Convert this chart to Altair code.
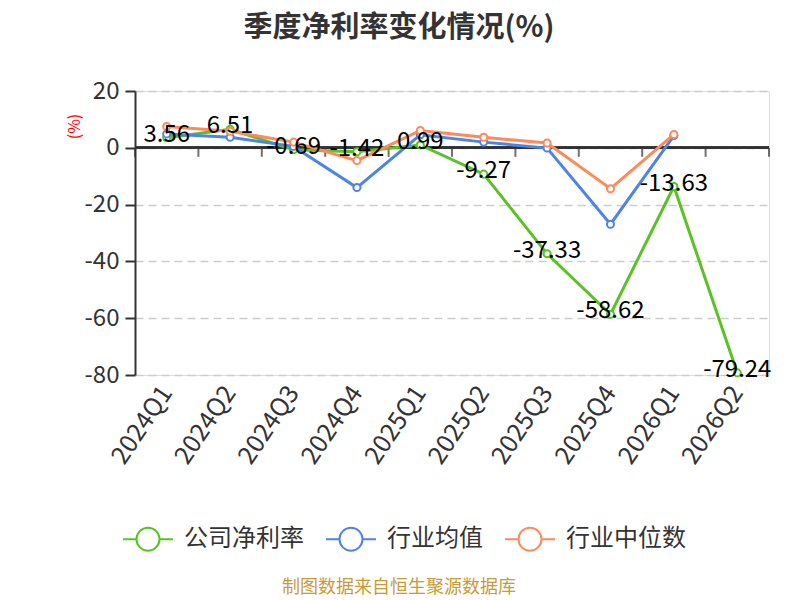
import altair as alt
import pandas as pd

quarters = ["2024Q1", "2024Q2", "2024Q3", "2024Q4", "2025Q1",
            "2025Q2", "2025Q3", "2025Q4", "2026Q1", "2026Q2"]
company = [3.56, 6.51, -0.69, -1.42, 0.99, -9.27, -37.33, -58.62, -13.63, -79.24]
ind_mean = [4.9, 3.7, 0.5, -14.0, 4.6, 2.0, -0.1, -26.9, 4.3, None]
ind_median = [7.5, 5.8, 2.0, -4.5, 6.1, 3.7, 1.7, -14.4, 4.7, None]
series_names = ["公司净利率", "行业均值", "行业中位数"]
colors = ["#58c322", "#4e84e6", "#fd8a5a"]
y_ticks = [-80, -60, -40, -20, 0, 20]

rows = []
for name, vals in zip(series_names, [company, ind_mean, ind_median]):
    for q, v in zip(quarters, vals):
        if v is not None:
            rows.append({"quarter": q, "series": name, "value": v, "label": f"{v:.2f}"})
df = pd.DataFrame(rows)
qdf = pd.DataFrame({"quarter": quarters})

FONT = "Noto Sans CJK SC"
W, H = 634, 284

xscale = alt.Scale(type="band", domain=quarters, paddingInner=0, paddingOuter=0)
yscale = alt.Scale(domain=[-80, 20], nice=False, zero=False)
cscale = alt.Scale(domain=series_names, range=colors)

x_axis = alt.Axis(
    domain=False, ticks=False, grid=False, labelAngle=-56, labelAlign="right",
    labelBaseline="middle", labelPadding=13, labelFontSize=25,
    labelColor="#333333", labelFont=FONT
)
y_axis = alt.Axis(
    values=y_ticks, labelExpr="'' + datum.value", labelFontSize=24,
    labelColor="#333333", labelFont=FONT, labelPadding=6,
    tickSize=10, tickWidth=2, tickColor="#333333",
    domainColor="#333333", domainWidth=2,
    grid=True, gridColor="#cccccc", gridDash=[8, 5], gridWidth=1.5,
    titleColor="#ff0000", titleFontSize=16, titleFontWeight="normal",
    titleFont=FONT, titleX=-61, titleY=35, titleAngle=270,
    titleAlign="center", titleBaseline="middle"
)

x_enc = alt.X("quarter:N", scale=xscale, title=None, axis=x_axis)
y_enc = alt.Y("value:Q", scale=yscale, title="(%)", axis=y_axis)

legend_path = ("M-1,0L-0.46,0M0.46,0L1,0"
               "M0.46,0A0.46,0.46,0,1,1,-0.46,0A0.46,0.46,0,1,1,0.46,0Z")

zero_line = alt.Chart(qdf).mark_rule(color="#333333", strokeWidth=2).encode(
    y=alt.datum(0, scale=yscale, axis=y_axis, title="(%)")
)
ticks = alt.Chart(qdf).mark_tick(
    orient="vertical", size=9, thickness=2, color="#333333", yOffset=4.5
).encode(
    x=alt.X("quarter:N", scale=xscale, bandPosition=0, title=None, axis=x_axis),
    y=alt.datum(0, scale=yscale, axis=y_axis, title="(%)"),
)
end_tick = alt.Chart(qdf[qdf.quarter == quarters[-1]]).mark_tick(
    orient="vertical", size=9, thickness=2, color="#333333", yOffset=4.5
).encode(
    x=alt.X("quarter:N", scale=xscale, bandPosition=1, title=None, axis=x_axis),
    y=alt.datum(0, scale=yscale, axis=y_axis, title="(%)"),
)

layers = [zero_line, ticks, end_tick]
for i, name in enumerate(series_names):
    sub = df[df.series == name]
    legend = None
    if i == 0:
        legend = alt.Legend(
            orient="none", legendX=-13, legendY=422, direction="horizontal",
            title=None, symbolType=legend_path, symbolSize=2500,
            symbolStrokeWidth=2, labelFontSize=24, labelColor="#333333",
            labelFont=FONT, labelOffset=10, columnPadding=18,
        )
    line = alt.Chart(sub).mark_line(strokeWidth=3).encode(
        x=x_enc, y=y_enc,
        color=alt.Color("series:N", scale=cscale, legend=legend),
    )
    pts = alt.Chart(sub).mark_point(
        shape="circle", filled=False, fill="white", size=50,
        strokeWidth=2, opacity=1
    ).encode(
        x=x_enc, y=y_enc,
        color=alt.Color("series:N", scale=cscale, legend=None),
    )
    layers += [line, pts]

labels = alt.Chart(df[df.series == series_names[0]]).mark_text(
    fontSize=24, color="#000000", dy=-3, baseline="middle", align="center", font=FONT
).encode(x=x_enc, y=y_enc, text="label:N")

footer = alt.Chart(qdf.head(1)).mark_text(
    fontSize=18, color="#c99a36", font=FONT, align="center", baseline="middle"
).encode(
    x=alt.value(264), y=alt.value(497), text=alt.value("制图数据来自恒生聚源数据库")
)

layers += [labels, footer]

chart = alt.layer(*layers).properties(
    width=W, height=H,
    autosize=alt.AutoSizeParams(type="none"),
    padding={"left": 127, "top": 83, "right": 20, "bottom": 223},
    title=alt.TitleParams(
        text="季度净利率变化情况(%)", fontSize=29, fontWeight="bold",
        color="#333333", font=FONT, anchor="middle", frame="group",
        dx=-53, offset=36
    ),
).configure_view(stroke=None).configure(font=FONT)

chart.save("out.html", embed_options={"renderer": "svg", "actions": False})
